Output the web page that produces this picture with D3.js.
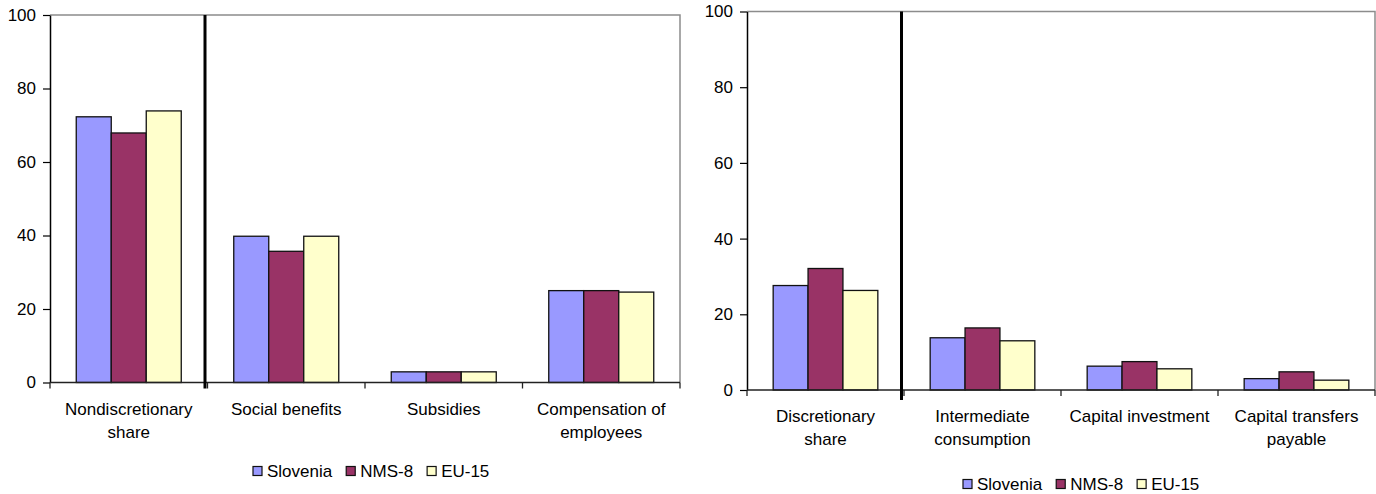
<!DOCTYPE html>
<html>
<head>
<meta charset="utf-8">
<script src="https://cdn.jsdelivr.net/npm/d3@7"></script>
<style>
  html, body { margin: 0; padding: 0; background: #fff; }
  svg { display: block; font-family: "Liberation Sans", Arial, sans-serif; }
</style>
</head>
<body>
<svg id="chart" width="1376" height="494"></svg>
<script>
// Expenditure composition: nondiscretionary vs discretionary shares
const seriesNames = ["Slovenia", "NMS-8", "EU-15"];
const seriesColors = ["#9999FF", "#993366", "#FFFFCC"];
const yTicks = [0, 20, 40, 60, 80, 100];

const categoriesLeft = ["Nondiscretionary\nshare", "Social benefits", "Subsidies", "Compensation of\nemployees"];
const sloveniaLeft = [72.3, 39.8, 2.9, 25.0];
const nms8Left     = [67.9, 35.7, 2.9, 25.0];
const eu15Left     = [73.9, 39.8, 2.9, 24.6];

const categoriesRight = ["Discretionary\nshare", "Intermediate\nconsumption", "Capital investment", "Capital transfers\npayable"];
const sloveniaRight = [27.6, 13.8, 6.3, 3.0];
const nms8Right     = [32.1, 16.4, 7.5, 4.8];
const eu15Right     = [26.3, 13.0, 5.6, 2.6];

const svg = d3.select("#chart");

function drawPanel(cfg) {
  const g = svg.append("g");
  const x = d3.scaleBand().domain(cfg.categories).range([cfg.x0, cfg.x1]).padding(0);
  const cat = x.bandwidth();
  const groupW = cat * 3 / 4.5;              // gap width 150% of one bar
  const xs = d3.scaleBand().domain(seriesNames)
    .range([(cat - groupW) / 2, (cat + groupW) / 2]).padding(0);
  const y = d3.scaleLinear().domain([0, 100]).range([cfg.yBottom, cfg.yTop]);

  const rows = cfg.categories.map((c, i) => ({
    cat: c,
    vals: seriesNames.map((s, k) => ({ s, k, v: cfg.series[k][i] }))
  }));

  // frame: grey top and right edges
  g.append("path")
    .attr("d", `M${cfg.x0},${y(100)}H${cfg.x1}V${y(0)}`)
    .attr("fill", "none").attr("stroke", "#8c8c8c").attr("stroke-width", 1.5);

  // bars
  g.selectAll("g.cat").data(rows).join("g")
    .attr("transform", d => `translate(${x(d.cat)},0)`)
    .selectAll("rect").data(d => d.vals).join("rect")
    .attr("x", d => xs(d.s))
    .attr("width", xs.bandwidth())
    .attr("y", d => y(d.v))
    .attr("height", d => y(0) - y(d.v))
    .attr("fill", d => seriesColors[d.k])
    .attr("stroke", "#111").attr("stroke-width", 1.3);

  // y axis
  const ya = g.append("g").attr("transform", `translate(${cfg.x0},0)`)
    .call(d3.axisLeft(y).tickValues(yTicks).tickSize(7).tickPadding(7).tickSizeOuter(0));
  ya.select(".domain").attr("stroke", "#000").attr("stroke-width", 1.5);
  ya.selectAll(".tick line").attr("stroke", "#000").attr("stroke-width", 1.2);
  ya.selectAll("text").attr("font-size", 17).attr("fill", "#000")
    .attr("font-family", "Liberation Sans, Arial, sans-serif");

  // x axis line and category boundary ticks
  g.append("line")
    .attr("x1", cfg.x0).attr("x2", cfg.x1)
    .attr("y1", y(0)).attr("y2", y(0))
    .attr("stroke", "#222").attr("stroke-width", 1.5);
  const bounds = cfg.categories.map(c => x(c)).concat([cfg.x1]);
  g.selectAll("line.btick").data(bounds).join("line")
    .attr("class", "btick")
    .attr("x1", d => d).attr("x2", d => d)
    .attr("y1", y(0)).attr("y2", y(0) + 6)
    .attr("stroke", "#222").attr("stroke-width", 1.3);

  // category labels
  g.selectAll("text.cl").data(cfg.categories).join("text")
    .attr("class", "cl")
    .attr("x", d => x(d) + cat / 2)
    .attr("y", y(0) + 32)
    .attr("text-anchor", "middle")
    .attr("font-size", 17).attr("fill", "#000")
    .selectAll("tspan").data(d => d.split("\n")).join("tspan")
    .attr("x", function () { return d3.select(this.parentNode).attr("x"); })
    .attr("dy", (d, i) => i === 0 ? 0 : 23)
    .text(d => d);

  // divider between the share and its components
  const dx = x(cfg.categories[1]) - 2.5;
  g.append("line")
    .attr("x1", dx).attr("x2", dx)
    .attr("y1", y(100)).attr("y2", y(0) + cfg.dividerDrop)
    .attr("stroke", "#000").attr("stroke-width", 3);

  // legend
  const lg = g.append("g").attr("transform", `translate(${cfg.legendX},${cfg.legendY})`);
  let cx = 0;
  seriesNames.forEach((s, k) => {
    lg.append("rect").attr("x", cx).attr("y", -4.5).attr("width", 9).attr("height", 9)
      .attr("fill", seriesColors[k]).attr("stroke", "#111").attr("stroke-width", 1.2);
    const t = lg.append("text").attr("x", cx + 14).attr("y", 6)
      .attr("font-size", 17).attr("fill", "#000").text(s);
    cx += 14 + t.node().getComputedTextLength() + 14;
  });
}

drawPanel({
  categories: categoriesLeft,
  series: [sloveniaLeft, nms8Left, eu15Left],
  x0: 50, x1: 680, yTop: 15, yBottom: 382.5,
  dividerDrop: 6, legendX: 253, legendY: 471
});

drawPanel({
  categories: categoriesRight,
  series: [sloveniaRight, nms8Right, eu15Right],
  x0: 747, x1: 1375, yTop: 11.5, yBottom: 390,
  dividerDrop: 10, legendX: 963, legendY: 484
});
</script>
</body>
</html>
